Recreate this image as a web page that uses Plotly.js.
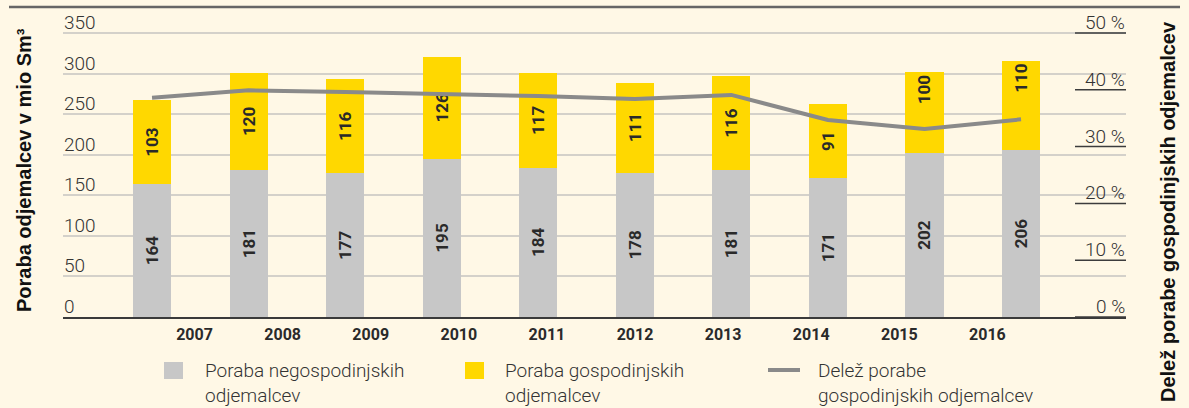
<!DOCTYPE html>
<html>
<head>
<meta charset="utf-8">
<script src="https://cdn.plot.ly/plotly-3.0.1.min.js"></script>
<style>
  html, body { margin: 0; padding: 0; background: #FFF8E6; }
  #chart { width: 1189px; height: 408px; }
</style>
</head>
<body>
<div id="chart"></div>
<script>
// ---- data ----
const years = ['2007', '2008', '2009', '2010', '2011', '2012', '2013', '2014', '2015', '2016'];
const nonHousehold = [164, 181, 177, 195, 184, 178, 181, 171, 202, 206];
const household = [103, 120, 116, 126, 117, 111, 116, 91, 100, 110];
const householdShare = [38.6, 39.9, 39.6, 39.3, 38.9, 38.4, 39.1, 34.7, 33.1, 34.8];
const leftTicks = [0, 50, 100, 150, 200, 250, 300, 350];
const rightTicks = [0, 10, 20, 30, 40, 50];
const rightTickText = ['0 %', '10 %', '20 %', '30 %', '40 %', '50 %'];
const legendLabels = [
  'Poraba negospodinjskih<br>odjemalcev',
  'Poraba gospodinjskih<br>odjemalcev',
  'Delež porabe<br>gospodinjskih odjemalcev'
];
const leftTitle = 'Poraba odjemalcev v mio Sm³';
const rightTitle = 'Delež porabe gospodinjskih odjemalcev';

// ---- styling ----
const BG = '#FFF8E6';
const GRAY = '#C7C7C7';
const YELLOW = '#FFD800';
const LINE = '#8A8A8A';
const TXT = '#2a2a2a';
const SANS = 'Roboto, "Liberation Sans", Arial, sans-serif';
const BOLDF = '"Liberation Sans", Arial, sans-serif';

const W = 1189, H = 408;
const M = { l: 63, r: 63, t: 27, b: 91 };
const PW = W - M.l - M.r, PH = H - M.t - M.b;
const px2x = p => (p - M.l) / PW;
const py2y = p => (H - M.b - p) / PH;
// vertical scale: 350 units span 284 px in the reference
const pxPerUnit = 284 / 350;
const leftMax = PH / pxPerUnit;
const rightMax = leftMax / 7;

// labels anchored near the top for the last two bars (as in the reference)
const topAnchored = years.map((y, i) => i >= 8);
const hhMid = household.map((v, i) => topAnchored[i] ? null : v);
const hhTop = household.map((v, i) => topAnchored[i] ? v : null);

const barWidth = 0.394;
const labelFont = { family: SANS, size: 17, color: TXT, weight: 'bold' };

const traces = [
  {
    type: 'bar', name: 'Poraba negospodinjskih odjemalcev',
    x: years, y: nonHousehold, width: barWidth,
    marker: { color: GRAY },
    text: nonHousehold.map(String), textposition: 'inside', insidetextanchor: 'middle',
    textangle: -90, textfont: labelFont, hoverinfo: 'skip'
  },
  {
    type: 'bar', name: 'Poraba gospodinjskih odjemalcev',
    x: years, y: hhMid, width: barWidth,
    marker: { color: YELLOW },
    text: hhMid.map(v => v == null ? '' : String(v)), textposition: 'inside', insidetextanchor: 'middle',
    textangle: -90, textfont: labelFont, hoverinfo: 'skip'
  },
  {
    type: 'bar', name: 'Poraba gospodinjskih odjemalcev (2)',
    x: years, y: hhTop, width: barWidth,
    marker: { color: YELLOW },
    text: hhTop.map(v => v == null ? '' : String(v)), textposition: 'inside', insidetextanchor: 'end',
    textangle: -90, textfont: labelFont, hoverinfo: 'skip'
  },
  {
    type: 'scatter', mode: 'lines', name: 'Delež porabe gospodinjskih odjemalcev',
    x: years, y: householdShare, yaxis: 'y2',
    line: { color: LINE, width: 4 }, hoverinfo: 'skip'
  },
  {
    // carrier for the year label axis
    type: 'scatter', mode: 'markers', x: years.map((y, i) => i), y: years.map(() => null),
    xaxis: 'x2', showlegend: false, hoverinfo: 'skip'
  }
];

const shapes = [];
// top rule
shapes.push({ type: 'line', xref: 'paper', yref: 'paper', x0: px2x(9), x1: px2x(1180), y0: py2y(7), y1: py2y(7),
  line: { color: '#666666', width: 2.5 } });
// right tick underlines
rightTicks.forEach(v => shapes.push({ type: 'line', xref: 'paper', yref: 'y2', x0: px2x(1075), x1: 1, y0: v, y1: v,
  line: { color: '#3c3c3c', width: 1.5 }, layer: 'above' }));
// legend symbols
shapes.push({ type: 'rect', xref: 'paper', yref: 'paper', x0: px2x(164), x1: px2x(183), y0: py2y(362), y1: py2y(379),
  line: { width: 0 }, fillcolor: GRAY });
shapes.push({ type: 'rect', xref: 'paper', yref: 'paper', x0: px2x(465), x1: px2x(484), y0: py2y(362), y1: py2y(379),
  line: { width: 0 }, fillcolor: YELLOW });
shapes.push({ type: 'line', xref: 'paper', yref: 'paper', x0: px2x(768), x1: px2x(800), y0: py2y(370), y1: py2y(370),
  line: { color: LINE, width: 4 } });

const tickFont = { family: SANS, size: 19, color: '#333333', weight: 300 };

const annotations = [];
// left tick labels (sit above their gridlines)
leftTicks.forEach(v => annotations.push({
  xref: 'paper', yref: 'y', x: 0, y: v, xanchor: 'left', yanchor: 'bottom', yshift: -2, borderpad: 0,
  text: String(v), showarrow: false, font: tickFont
}));
// right tick labels
rightTicks.forEach((v, i) => annotations.push({
  xref: 'paper', yref: 'y2', x: 1, y: v, xanchor: 'right', yanchor: 'bottom', yshift: -2, borderpad: 0,
  text: rightTickText[i], showarrow: false, font: tickFont
}));
// legend text
const legendX = [203, 503, 816];
legendLabels.forEach((t, i) => annotations.push({
  xref: 'paper', yref: 'paper', x: px2x(legendX[i]), y: py2y(383), xanchor: 'left', yanchor: 'middle',
  text: t, align: 'left', showarrow: false, font: { family: SANS, size: 19, color: '#333333', weight: 300 }
}));
// axis titles
annotations.push({
  xref: 'paper', yref: 'paper', x: px2x(24), y: py2y(170), xanchor: 'center', yanchor: 'middle',
  text: leftTitle, textangle: -90, showarrow: false,
  font: { family: BOLDF, size: 20, color: '#111111', weight: 'bold' }
});
annotations.push({
  xref: 'paper', yref: 'paper', x: px2x(1168), y: py2y(212), xanchor: 'center', yanchor: 'middle',
  text: rightTitle, textangle: -90, showarrow: false,
  font: { family: BOLDF, size: 20, color: '#111111', weight: 'bold' }
});

const layout = {
  width: W, height: H,
  margin: { l: M.l, r: M.r, t: M.t, b: M.b, pad: 0 },
  paper_bgcolor: BG, plot_bgcolor: BG,
  barmode: 'stack', showlegend: false, hovermode: false,
  xaxis: {
    type: 'category', categoryarray: years, categoryorder: 'array',
    range: [-0.922, 10.087], showticklabels: false, ticks: '',
    showgrid: false, zeroline: false, showline: true, linecolor: '#3a3a3a', linewidth: 2
  },
  xaxis2: {
    type: 'linear', overlaying: 'x', anchor: 'y', side: 'bottom',
    range: [-1.493, 10.573], tickvals: years.map((y, i) => i), ticktext: years,
    ticks: '', showgrid: false, zeroline: false, showline: false,
    tickfont: { family: SANS, size: 16, color: TXT, weight: 'bold' }, ticklabelstandoff: 6
  },
  yaxis: {
    range: [0, leftMax], tickvals: leftTicks, ticks: '', showticklabels: false,
    showgrid: true, gridcolor: '#D4D1CA', gridwidth: 2, zeroline: false, showline: false
  },
  yaxis2: {
    overlaying: 'y', side: 'right', anchor: 'x',
    range: [0, rightMax], tickvals: rightTicks, ticks: '', showticklabels: false,
    showgrid: false, zeroline: false, showline: false
  },
  shapes: shapes,
  annotations: annotations
};

Plotly.newPlot('chart', traces, layout, { staticPlot: true, displayModeBar: false });
</script>
</body>
</html>
